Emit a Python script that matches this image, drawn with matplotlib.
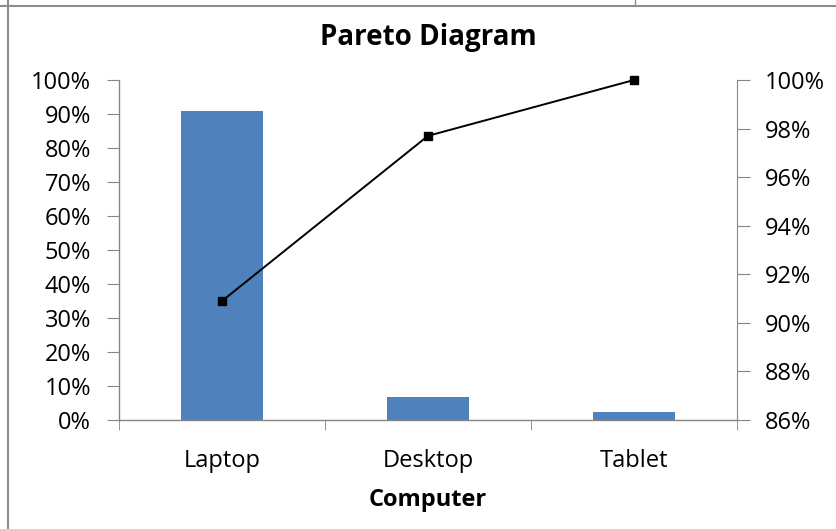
import matplotlib
matplotlib.use("Agg")
import matplotlib.pyplot as plt
from matplotlib.lines import Line2D
from matplotlib.ticker import FuncFormatter, FixedLocator
import numpy as np

categories = ["Laptop", "Desktop", "Tablet"]
share = [0.909, 0.068, 0.023]
cumulative = [0.909, 0.977, 1.000]
left_ticks = [0, 0.1, 0.2, 0.3, 0.4, 0.5, 0.6, 0.7, 0.8, 0.9, 1.0]
right_ticks = [0.86, 0.88, 0.90, 0.92, 0.94, 0.96, 0.98, 1.00]

W, H = 837, 529
fig = plt.figure(figsize=(W / 100, H / 100), dpi=100)
plt.rcParams['font.family'] = ['Open Sans', 'DejaVu Sans']

L, R, T, B = 119, 737, 80, 420
ax = fig.add_axes([L / W, 1 - B / H, (R - L) / W, (B - T) / H])
x = np.arange(len(categories))
ax.bar(x, share, width=0.4, color="#4F81BD", zorder=2)
ax.set_xlim(-0.5, len(categories) - 0.5)
ax.set_ylim(0, 1.0)
ax.set_yticks(left_ticks)
ax.yaxis.set_major_formatter(FuncFormatter(lambda v, p: f"{v*100:.0f}%"))
ax.set_xticks(x)
ax.set_xticklabels(categories)
ax.xaxis.set_minor_locator(FixedLocator(np.arange(-0.5, len(categories), 1.0)))
ax.tick_params(axis='x', which='major', length=0, pad=21, labelsize=17)
ax.tick_params(axis='x', which='minor', length=7, color="#868686", direction='out')
ax.tick_params(axis='y', length=9, color="#868686", direction='out', labelsize=17, pad=11)
ax.spines["top"].set_visible(False)
ax.spines["right"].set_visible(False)
for s in ["left", "bottom"]:
    ax.spines[s].set_color("#868686")
    ax.spines[s].set_linewidth(1.0)

ax2 = ax.twinx()
ax2.plot(x, cumulative, color="black", lw=1.4, marker="s", markersize=6,
         zorder=3, clip_on=False)
ax2.set_ylim(0.86, 1.0)
ax2.set_yticks(right_ticks)
ax2.yaxis.set_major_formatter(FuncFormatter(lambda v, p: f"{v*100:.0f}%"))
ax2.tick_params(axis='y', length=9, color="#868686", direction='out', labelsize=17, pad=11)
for s in ["top", "left", "bottom"]:
    ax2.spines[s].set_visible(False)
ax2.spines["right"].set_color("#868686")

fig.text(428 / W, 1 - 38 / H, "Pareto Diagram", ha="center", va="center",
         fontsize=20, fontweight="bold")
fig.text(428 / W, 1 - 500 / H, "Computer", ha="center", va="center",
         fontsize=17, fontweight="bold")

# outer frame lines
gray = "#8c8c8c"
fig.add_artist(Line2D([0, 1], [1 - 6 / H, 1 - 6 / H], transform=fig.transFigure, color=gray, lw=1.5))
fig.add_artist(Line2D([8 / W, 8 / W], [0, 1], transform=fig.transFigure, color=gray, lw=1.5))
fig.add_artist(Line2D([635 / W, 635 / W], [1 - 6 / H, 1], transform=fig.transFigure, color=gray, lw=1.0))

fig.savefig("out.png", dpi=100)
